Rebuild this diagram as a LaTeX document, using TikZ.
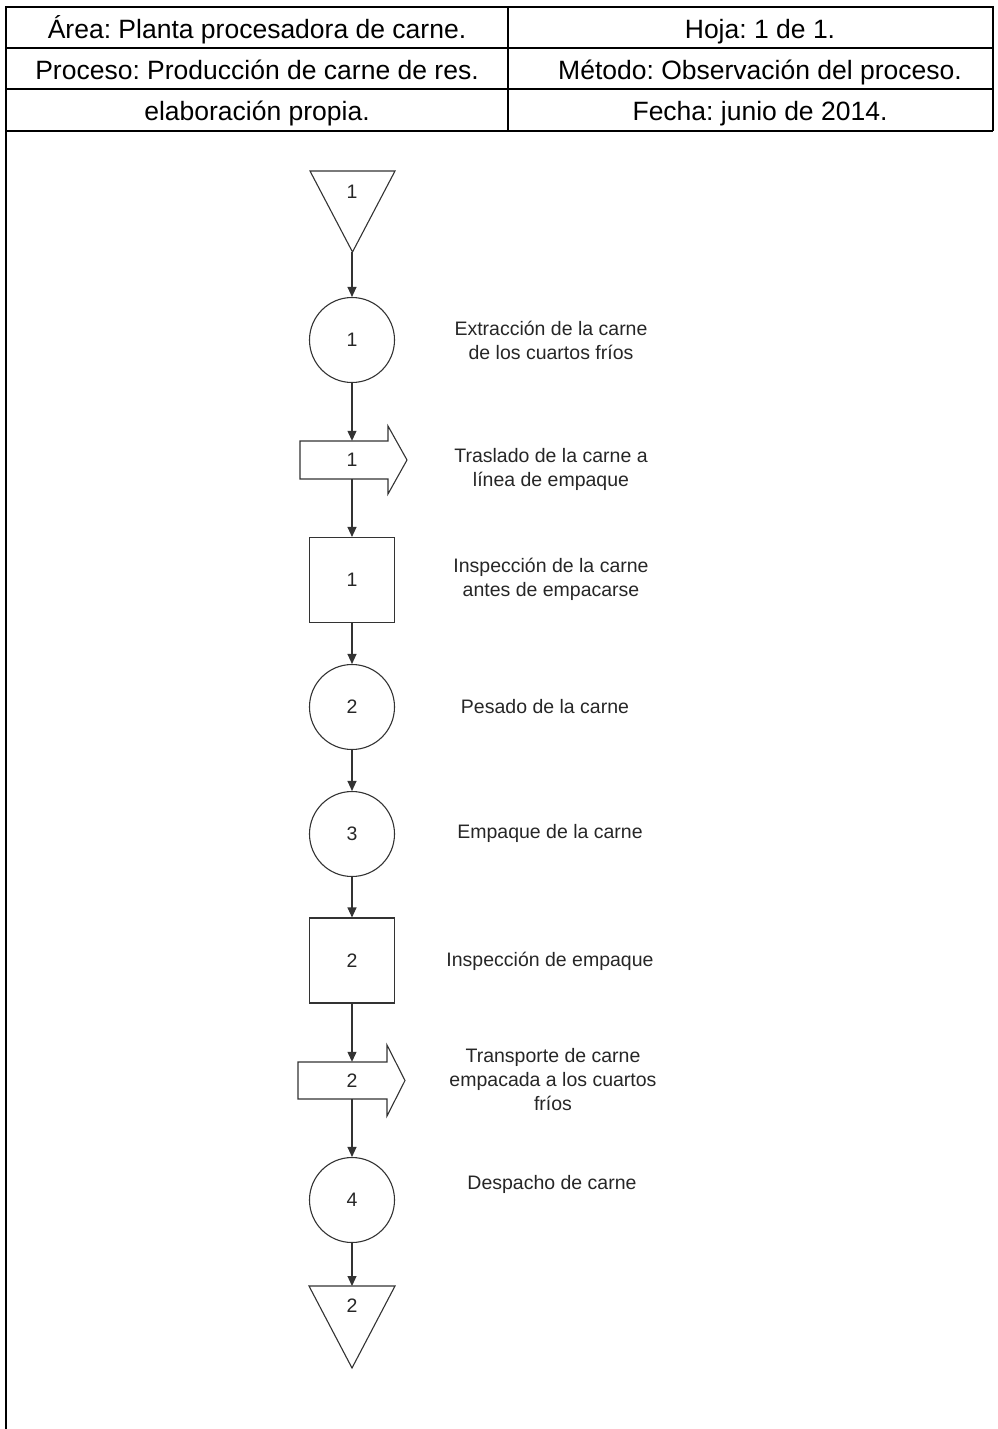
\documentclass[tikz,border=0pt]{standalone}
\usepackage{fontspec}
\setmainfont{Liberation Sans}
\usetikzlibrary{arrows.meta,calc}
\frenchspacing
\begin{document}
\begin{tikzpicture}[x=1pt,y=-1pt,
  tbl/.style={line width=2pt,black},
  shp/.style={draw=black!80,line width=1.1pt},
  num/.style={font=\fontsize{19.5}{22}\selectfont,text=black!85},
  lbl/.style={font=\fontsize{19.5}{24}\selectfont,align=center,text=black!85},
  cell/.style={font=\fontsize{26.5}{30}\selectfont,anchor=base,inner sep=0},
  flow/.style={draw=black!80,line width=1.1pt,-{Triangle[length=10pt,width=9pt]}},
  circ/.style={shp,circle,minimum size=85pt,inner sep=0,num},
  sq/.style={shp,rectangle,minimum size=85pt,inner sep=0,num},
  trn/.style={num,minimum height=38pt,inner sep=0}
]
\useasboundingbox (0,0) rectangle (998,1429);
% table
\draw[tbl] (993,131) -- (993,7) -- (6,7) -- (6,1429);
\draw[tbl] (6,48) -- (993,48);
\draw[tbl] (6,89) -- (993,89);
\draw[tbl] (6,131) -- (993,131);
\draw[tbl] (508,7) -- (508,131);
\node[cell] (area) at (257,38) {Área: Planta procesadora de carne.};
\node[cell] (hoja) at (760,38) {Hoja: 1 de 1.};
\node[cell] (proc) at (257,79) {Proceso: Producción de carne de res.};
\node[cell] (meto) at (760,79) {Método: Observación del proceso.};
\node[cell] (elab) at (257,120) {elaboración propia.};
\node[cell] (fech) at (760,120) {Fecha: junio de 2014.};
% shapes
\draw[shp] (310,171) -- (395,171) -- (352.5,252) -- cycle;
\coordinate (t1) at (352,252);
\node[num] (t1n) at (352,192) {1};
\node[circ] (c1) at (352,340) {1};
\draw[shp] (300,441) -- (388,441) -- (388,426) -- (407,460) -- (388,494) -- (388,479) -- (300,479) -- cycle;
\node[trn] (tr1) at (352,460) {1};
\node[sq] (s1) at (352,580) {1};
\node[circ] (c2) at (352,707) {2};
\node[circ] (c3) at (352,834) {3};
\node[sq] (s2) at (352,960.5) {2};
\draw[shp] (298,1062) -- (387,1062) -- (387,1045) -- (405,1080.5) -- (387,1116) -- (387,1099) -- (298,1099) -- cycle;
\node[trn,minimum height=37pt] (tr2) at (352,1080.5) {2};
\node[circ] (c4) at (352,1200) {4};
\draw[shp] (309,1286) -- (395,1286) -- (352,1368) -- cycle;
\coordinate (t2) at (352,1286);
\node[num] (t2n) at (352,1306) {2};
% connectors
\draw[flow] (t1) -- (c1.north);
\draw[flow] (c1.south) -- (tr1.north);
\draw[flow] (tr1.south) -- (s1.north);
\draw[flow] (s1.south) -- (c2.north);
\draw[flow] (c2.south) -- (c3.north);
\draw[flow] (c3.south) -- (s2.north);
\draw[flow] (s2.south) -- (tr2.north);
\draw[flow] (tr2.south) -- (c4.north);
\draw[flow] (c4.south) -- (t2);
% labels
\node[lbl] (l1) at (551,340) {Extracción de la carne\\de los cuartos fríos};
\node[lbl] (l2) at (551,469) {Traslado de la carne a\\línea de empaque};
\node[lbl] (l3) at (551,579) {Inspección de la carne\\antes de empacarse};
\node[lbl] (l4) at (545,707) {Pesado de la carne};
\node[lbl] (l5) at (550,833) {Empaque de la carne};
\node[lbl] (l6) at (550,961) {Inspección de empaque};
\node[lbl] (l7) at (553,1080) {Transporte de carne\\empacada a los cuartos\\fríos};
\node[lbl] (l8) at (552,1184) {Despacho de carne};
\end{tikzpicture}
\end{document}
